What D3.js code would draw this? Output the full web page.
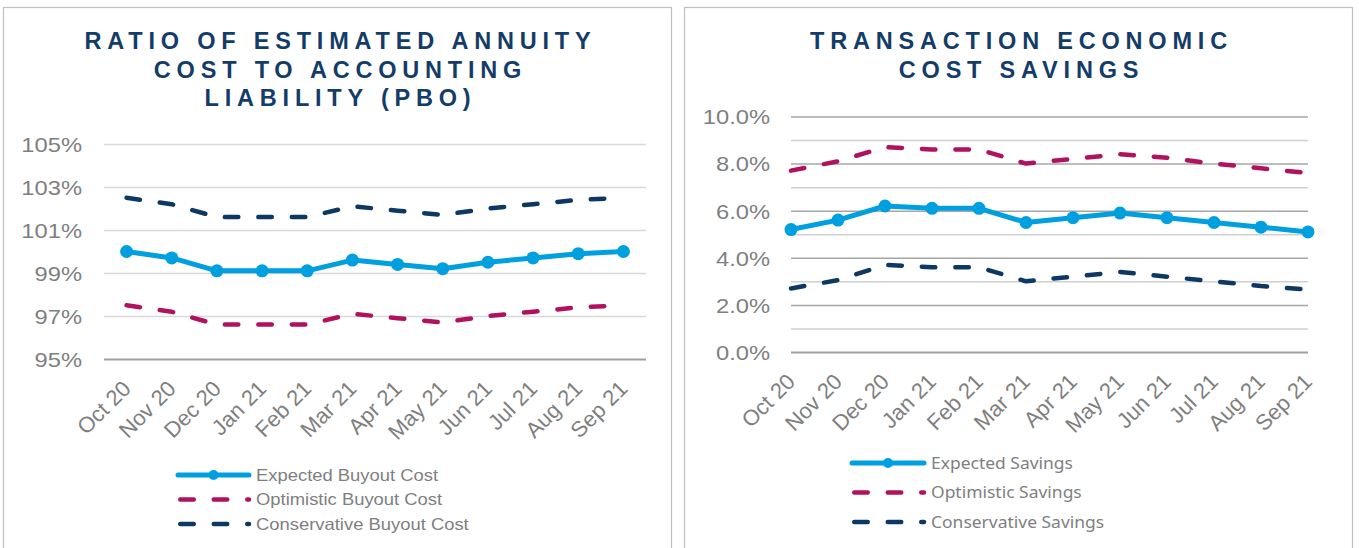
<!DOCTYPE html>
<html>
<head>
<meta charset="utf-8">
<script src="https://d3js.org/d3.v7.min.js"></script>
<style>
  body { margin: 0; background: #fff; }
  svg { display: block; }
</style>
</head>
<body>
<svg width="1359" height="548" id="chart"></svg>
<script>
// --- data ---
const months = ["Oct 20", "Nov 20", "Dec 20", "Jan 21", "Feb 21", "Mar 21",
                "Apr 21", "May 21", "Jun 21", "Jul 21", "Aug 21", "Sep 21"];

const expectedBuyout     = [100.0, 99.7, 99.1, 99.1, 99.1, 99.6, 99.4, 99.2, 99.5, 99.7, 99.9, 100.0];
const optimisticBuyout   = [97.5, 97.2, 96.6, 96.6, 96.6, 97.1, 96.9, 96.7, 97.0, 97.2, 97.4, 97.5];
const conservativeBuyout = [102.5, 102.2, 101.6, 101.6, 101.6, 102.1, 101.9, 101.7, 102.0, 102.2, 102.4, 102.5];
const buyoutTicks = [95, 97, 99, 101, 103, 105];

const expectedSavings     = [5.2, 5.6, 6.2, 6.1, 6.1, 5.5, 5.7, 5.9, 5.7, 5.5, 5.3, 5.1];
const optimisticSavings   = [7.7, 8.1, 8.7, 8.6, 8.6, 8.0, 8.2, 8.4, 8.25, 8.0, 7.8, 7.6];
const conservativeSavings = [2.7, 3.05, 3.7, 3.6, 3.6, 3.0, 3.2, 3.4, 3.2, 3.0, 2.8, 2.65];
const savingsTicks = [0, 2, 4, 6, 8, 10];
const savingsMinorTicks = [1, 3, 5, 7, 9];

const buyoutTitle  = ["RATIO OF ESTIMATED ANNUITY", "COST TO ACCOUNTING", "LIABILITY (PBO)"];
const savingsTitle = ["TRANSACTION ECONOMIC", "COST SAVINGS"];
const buyoutNames  = ["Expected Buyout Cost", "Optimistic Buyout Cost", "Conservative Buyout Cost"];
const savingsNames = ["Expected Savings", "Optimistic Savings", "Conservative Savings"];

const colours = { expected: "#009fdf", optimistic: "#b0125f", conservative: "#0c3863" };
const SX = 1.13;          // the source text is a little wider than plain Arial
const gray = "#7f7f7f";
const svg = d3.select("#chart");

function panel(cfg) {
  // frame
  svg.append("rect")
    .attr("x", cfg.box[0] + 0.5).attr("y", 7.5)
    .attr("width", cfg.box[1] - cfg.box[0]).attr("height", 600)
    .attr("fill", "none").attr("stroke", "#bfbfbf").attr("stroke-width", 1.2);

  const cx = (cfg.box[0] + cfg.box[1]) / 2;
  svg.append("g").selectAll("text")
    .data(cfg.title).enter().append("text")
    .attr("transform", (d, i) => "translate(" + (cx + 3.5) + "," + (49 + i * 28.5) + ")")
    .attr("text-anchor", "middle")
    .style("font", "bold 23.5px 'Liberation Sans', Arial, sans-serif")
    .style("letter-spacing", "5.8px")
    .attr("fill", "#143c68")
    .text(d => d);

  const x = d3.scalePoint().domain(months).range(cfg.xr).padding(cfg.pad);
  const y = d3.scaleLinear().domain(cfg.yd).range(cfg.yr);
  const w = cfg.xr[1] - cfg.xr[0];
  const g = svg.append("g").attr("transform", "translate(" + cfg.xr[0] + ",0)");

  // minor grid
  if (cfg.minor) {
    g.append("g")
      .call(d3.axisLeft(y).tickValues(cfg.minor).tickSize(-w).tickFormat(""))
      .call(a => a.select(".domain").remove())
      .selectAll("line").attr("stroke", "#d0d0d0").attr("stroke-width", 1.5);
  }

  // major grid + labels
  const ya = g.append("g")
    .call(d3.axisLeft(y).tickValues(cfg.ticks).tickSize(-w).tickPadding(0).tickFormat(cfg.fmt));
  ya.select(".domain").remove();
  ya.selectAll("line")
    .attr("stroke", d => d === cfg.yd[0] ? "#a0a0a0" : cfg.major)
    .attr("stroke-width", d => d === cfg.yd[0] ? 2 : 1.5);
  ya.selectAll("text")
    .attr("x", null).attr("dy", "0.35em")
    .attr("transform", "translate(" + (-cfg.labGap) + ",0) scale(" + SX + ",1)")
    .attr("fill", gray)
    .style("font", "21px 'Liberation Sans', Arial, sans-serif");

  // x labels
  const xa = svg.append("g").attr("transform", "translate(0," + cfg.yr[0] + ")")
    .call(d3.axisBottom(x).tickSize(0));
  xa.select(".domain").remove();
  xa.selectAll("text")
    .attr("y", null).attr("dy", null)
    .attr("transform", "translate(5,31) rotate(-45)")
    .attr("text-anchor", "end")
    .attr("fill", gray)
    .style("font", "22px 'Liberation Sans', Arial, sans-serif");

  // series
  const line = d3.line().x((d, i) => x(months[i])).y(d => y(d));
  const series = [
    { key: "conservative", values: cfg.cons, dashed: true },
    { key: "optimistic", values: cfg.opt, dashed: true },
    { key: "expected", values: cfg.exp, dashed: false }
  ];
  series.forEach(s => {
    svg.append("path")
      .attr("d", line(s.values))
      .attr("fill", "none")
      .attr("stroke", colours[s.key])
      .attr("stroke-width", s.dashed ? 4.5 : 5)
      .attr("stroke-linecap", s.dashed ? "round" : "butt")
      .attr("stroke-linejoin", "round")
      .attr("stroke-dasharray", s.dashed ? "13.5,20" : null);
    if (!s.dashed) {
      svg.append("g").selectAll("circle")
        .data(s.values).enter().append("circle")
        .attr("cx", (d, i) => x(months[i]))
        .attr("cy", d => y(d))
        .attr("r", 6.5)
        .attr("fill", colours[s.key]);
    }
  });

  // legend
  const keys = ["expected", "optimistic", "conservative"];
  const lg = svg.append("g").selectAll("g")
    .data(keys).enter().append("g")
    .attr("transform", (d, i) => "translate(" + cfg.leg[0] + "," + cfg.leg[1][i] + ")");
  lg.append("path")
    .attr("d", d => d === "expected" ? "M0,0H" + cfg.legLen : "M2.25,0H" + cfg.legLen)
    .attr("stroke", d => colours[d])
    .attr("stroke-width", d => d === "expected" ? 5 : 4.5)
    .attr("stroke-linecap", "round")
    .attr("stroke-dasharray", d => d === "expected" ? null : "13.5,20");
  lg.filter(d => d === "expected").append("circle")
    .attr("cx", cfg.legLen / 2).attr("r", 5).attr("fill", colours.expected);
  lg.append("text")
    .attr("transform", "translate(" + (cfg.legLen + 7) + ",0) scale(" + cfg.legSX + ",1)")
    .attr("dy", "0.35em")
    .attr("fill", gray)
    .style("font", cfg.legFont)
    .text((d, i) => cfg.names[i]);
}

panel({
  box: [3, 671], title: buyoutTitle,
  xr: [104, 646], pad: 0.5, yd: [95, 105], yr: [359, 144],
  ticks: buyoutTicks, fmt: d => d + "%", major: "#d9d9d9", labGap: 22,
  exp: expectedBuyout, opt: optimisticBuyout, cons: conservativeBuyout,
  leg: [178, [475, 499.5, 524]], legLen: 71, legSX: SX,
  legFont: "16.3px 'Liberation Sans', Arial, sans-serif", names: buyoutNames
});

panel({
  box: [684, 1352], title: savingsTitle,
  xr: [791, 1308], pad: 0, yd: [0, 10], yr: [352, 116.5],
  ticks: savingsTicks, minor: savingsMinorTicks, fmt: d => d.toFixed(1) + "%",
  major: "#a6a6a6", labGap: 21,
  exp: expectedSavings, opt: optimisticSavings, cons: conservativeSavings,
  leg: [852, [463, 492.5, 522]], legLen: 72, legSX: 1.04,
  legFont: "16.8px 'Noto Sans', 'Open Sans', sans-serif", names: savingsNames
});
</script>
</body>
</html>
